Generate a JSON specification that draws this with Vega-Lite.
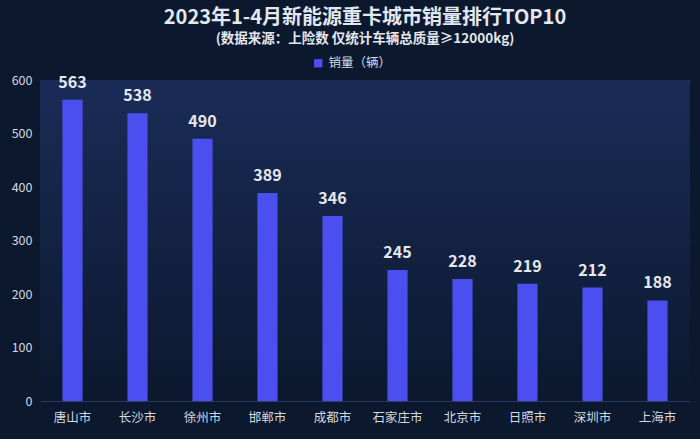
{
  "$schema": "https://vega.github.io/schema/vega-lite/v6.json",
  "width": 650,
  "height": 321,
  "autosize": {"type": "none"},
  "padding": {"left": 40, "top": 80, "right": 10, "bottom": 38},
  "background": "#0b182e",
  "title": {
    "text": "2023年1-4月新能源重卡城市销量排行TOP10",
    "subtitle": "(数据来源：上险数 仅统计车辆总质量≥12000kg)",
    "anchor": "middle",
    "frame": "group",
    "fontSize": 20,
    "fontWeight": "bold",
    "color": "#e3e7ee",
    "subtitleFontSize": 13.5,
    "subtitleFontWeight": "bold",
    "subtitleColor": "#e3e7ee",
    "subtitlePadding": 4,
    "offset": 12,
    "font": "Noto Sans CJK SC",
    "subtitleFont": "Noto Sans CJK SC"
  },
  "config": {
    "view": {"stroke": null},
    "font": "Noto Sans CJK SC"
  },
  "data": {
    "values": [
      {"city": "唐山市", "sales": 563, "series": "销量（辆）"},
      {"city": "长沙市", "sales": 538, "series": "销量（辆）"},
      {"city": "徐州市", "sales": 490, "series": "销量（辆）"},
      {"city": "邯郸市", "sales": 389, "series": "销量（辆）"},
      {"city": "成都市", "sales": 346, "series": "销量（辆）"},
      {"city": "石家庄市", "sales": 245, "series": "销量（辆）"},
      {"city": "北京市", "sales": 228, "series": "销量（辆）"},
      {"city": "日照市", "sales": 219, "series": "销量（辆）"},
      {"city": "深圳市", "sales": 212, "series": "销量（辆）"},
      {"city": "上海市", "sales": 188, "series": "销量（辆）"}
    ]
  },
  "layer": [
    {
      "data": {"values": [{}]},
      "mark": {
        "type": "rect",
        "color": {
          "gradient": "linear",
          "x1": 0, "y1": 0, "x2": 0, "y2": 1,
          "stops": [
            {"offset": 0, "color": "#1a2c57"},
            {"offset": 1, "color": "#0b182e"}
          ]
        }
      },
      "encoding": {}
    },
    {
      "mark": {"type": "bar", "color": "#4b4ff0"},
      "encoding": {
        "x": {
          "field": "city",
          "type": "nominal",
          "sort": null,
          "scale": {"paddingInner": 0.69, "paddingOuter": 0.345},
          "axis": {
            "title": null,
            "labelAngle": 0,
            "labelColor": "#d4d8e0",
            "labelFontSize": 12.5,
            "labelPadding": 10,
            "ticks": false,
            "domain": false
          }
        },
        "y": {
          "field": "sales",
          "type": "quantitative",
          "scale": {"domain": [0, 600]},
          "axis": {
            "title": null,
            "values": [0, 100, 200, 300, 400, 500, 600],
            "labelColor": "#d4d8e0",
            "labelFontSize": 12.5,
            "labelPadding": 8,
            "ticks": false,
            "domain": false,
            "gridColor": "#2b3b62",
            "gridWidth": 1
          }
        },
        "fill": {
          "field": "series",
          "type": "nominal",
          "scale": {"range": ["#4b4ff0"]},
          "legend": {
            "title": null,
            "orient": "none",
            "legendX": 272,
            "legendY": -23,
            "symbolType": "square",
            "symbolSize": 70,
            "labelColor": "#d4d8e0",
            "labelFontSize": 12.5
          }
        }
      }
    },
    {
      "mark": {
        "type": "text",
        "baseline": "bottom",
        "dy": -9,
        "fontSize": 16,
        "fontWeight": "bold",
        "color": "#e6e8ee"
      },
      "encoding": {
        "x": {"field": "city", "type": "nominal", "sort": null},
        "y": {"field": "sales", "type": "quantitative"},
        "text": {"field": "sales", "type": "quantitative"}
      }
    }
  ]
}
